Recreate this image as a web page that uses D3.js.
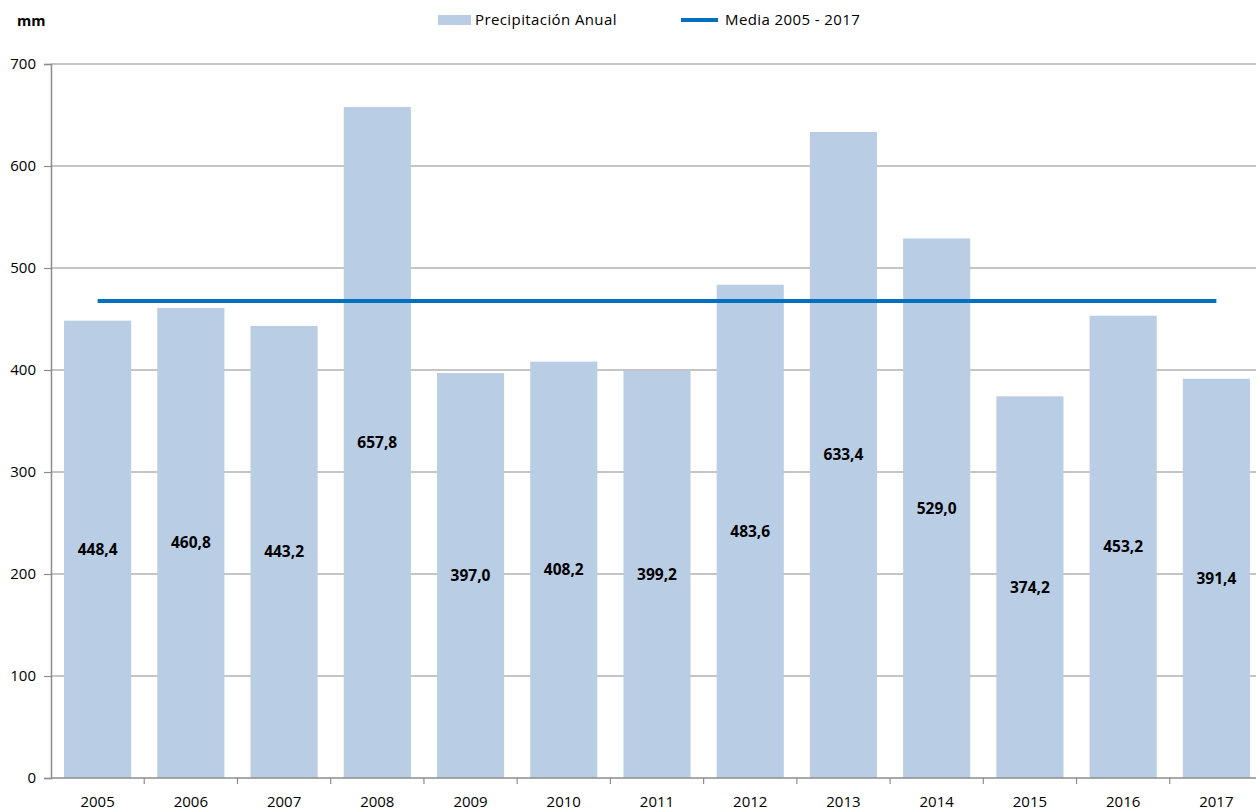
<!DOCTYPE html>
<html>
<head>
<meta charset="utf-8">
<script src="https://cdn.jsdelivr.net/npm/d3@7"></script>
<style>
  body { margin: 0; background: #fff; }
  text { font-family: "Open Sans", sans-serif; }
</style>
</head>
<body>
<div id="chart"></div>
<script>
const years = ['2005', '2006', '2007', '2008', '2009', '2010', '2011', '2012', '2013', '2014', '2015', '2016', '2017'];
const rainfall = [448.4, 460.8, 443.2, 657.8, 397.0, 408.2, 399.2, 483.6, 633.4, 529.0, 374.2, 453.2, 391.4];
const yTicks = [0, 100, 200, 300, 400, 500, 600, 700];
const meanLabel = 'Media 2005 - 2017';
const barLabel = 'Precipitación Anual';

const svg = d3.select('#chart').append('svg').attr('width', 1256).attr('height', 810);

const margin = {top: 64, right: -7, bottom: 32, left: 51};
const width = 1256 - margin.left - margin.right;
const height = 810 - margin.top - margin.bottom;

const g = svg.append('g').attr('transform', `translate(${margin.left},${margin.top})`);

const x = d3.scaleBand().domain(years).range([0, width]).paddingInner(0.28).paddingOuter(0.14);
const y = d3.scaleLinear().domain([0, 700]).range([height, 0]);

const mean = d3.mean(rainfall);

// gridlines
g.selectAll('.grid')
    .data(yTicks.filter(d => d > 0))
    .enter().append('line')
    .attr('x1', 0).attr('x2', width)
    .attr('y1', d => y(d)).attr('y2', d => y(d))
    .attr('stroke', '#8c8c8c').attr('stroke-width', 1.2);

// bars
g.selectAll('.bar')
    .data(rainfall)
    .enter().append('rect')
    .attr('x', (d, i) => x(years[i]))
    .attr('y', d => y(d))
    .attr('width', x.bandwidth())
    .attr('height', d => height - y(d))
    .attr('fill', '#b9cde5');

// y axis
const yAxis = g.append('g').call(d3.axisLeft(y).tickValues(yTicks).tickSize(7).tickPadding(8));
yAxis.select('.domain').attr('stroke', '#8c8c8c').attr('stroke-width', 1.5);
yAxis.selectAll('.tick line').attr('stroke', '#8c8c8c').attr('stroke-width', 1.2);
yAxis.selectAll('.tick text').attr('font-size', 15).attr('fill', '#000')
    .style('font-family', '"Open Sans", sans-serif');

// x axis: ticks between categories
const xAxisG = g.append('g').attr('transform', `translate(0,${height})`);
xAxisG.append('line').attr('x1', 0).attr('x2', width).attr('stroke', '#8c8c8c').attr('stroke-width', 1.5);
xAxisG.selectAll('.sep')
    .data(years.slice(1))
    .enter().append('line')
    .attr('x1', d => x(d) - x.step() * x.paddingInner() / 2)
    .attr('x2', d => x(d) - x.step() * x.paddingInner() / 2)
    .attr('y1', 0).attr('y2', 6)
    .attr('stroke', '#8c8c8c').attr('stroke-width', 1.2);
xAxisG.selectAll('.xlab')
    .data(years)
    .enter().append('text')
    .attr('x', d => x(d) + x.bandwidth() / 2)
    .attr('y', 29)
    .attr('text-anchor', 'middle')
    .attr('font-size', 15)
    .text(d => d);

// mean line
g.append('line')
    .attr('x1', x(years[0]) + x.bandwidth() / 2)
    .attr('x2', x(years[years.length - 1]) + x.bandwidth() / 2)
    .attr('y1', y(mean)).attr('y2', y(mean))
    .attr('stroke', '#0070c0').attr('stroke-width', 4);

// value labels
g.selectAll('.val')
    .data(rainfall)
    .enter().append('text')
    .attr('x', (d, i) => x(years[i]) + x.bandwidth() / 2)
    .attr('y', d => y(d / 2))
    .attr('dy', '0.35em')
    .attr('text-anchor', 'middle')
    .attr('font-size', 15.5)
    .attr('font-weight', 'bold')
    .text(d => d.toFixed(1).replace('.', ','));

// unit label
svg.append('text').attr('x', 17).attr('y', 26).attr('font-size', 14.5).attr('font-weight', 'bold').text('mm');

// legend
svg.append('rect').attr('x', 438).attr('y', 15).attr('width', 33).attr('height', 10).attr('fill', '#b9cde5');
svg.append('text').attr('x', 475).attr('y', 25).attr('font-size', 15).attr('letter-spacing', 0.4).text(barLabel);
svg.append('line').attr('x1', 681).attr('x2', 718).attr('y1', 20).attr('y2', 20)
    .attr('stroke', '#0070c0').attr('stroke-width', 4);
svg.append('text').attr('x', 725).attr('y', 25).attr('font-size', 15).attr('letter-spacing', 0.4).text(meanLabel);
</script>
</body>
</html>
